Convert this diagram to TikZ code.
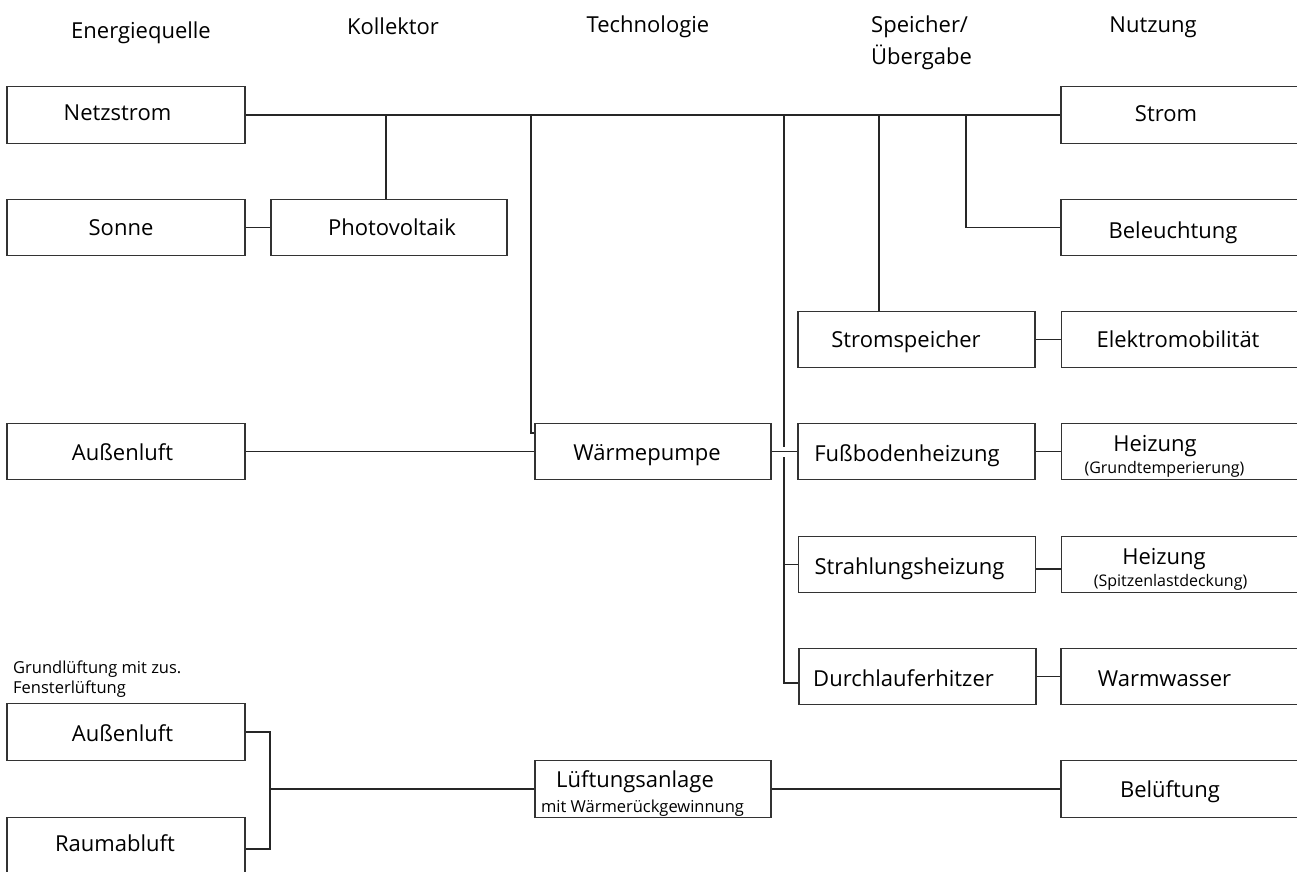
\documentclass[tikz,border=0pt]{standalone}
\usepackage{fontspec}
\setmainfont{Open Sans}
\usetikzlibrary{calc}
\newcommand\shiftl[2]{\hspace*{-#1pt}\hspace*{-#1pt}#2}
\begin{document}
\begin{tikzpicture}[x=1pt,y=-1pt,
  bx/.style={draw=black!80, line width=1.2pt, rectangle, inner sep=0pt,
             minimum height=56.5pt, text height=18pt, text depth=0pt,
             font=\fontsize{22}{26}\selectfont},
  lb/.style={bx, minimum width=238pt},
  mb/.style={bx, minimum width=236pt},
  sb/.style={bx, minimum width=237pt},
  rb/.style={bx, minimum width=250pt},
  ln/.style={draw=black!85, line width=1.2pt},
  hd/.style={font=\fontsize{22}{26}\selectfont, inner sep=0pt, anchor=base}
]
\useasboundingbox (0,0) rectangle (1297,871);
\clip (0,0) rectangle (1297,871);

% headers
\node[hd] (h1) at (141,38) {Energiequelle};
\node[hd] (h2) at (393,34) {Kollektor};
\node[hd] (h3) at (648,32) {Technologie};
\node[hd, anchor=base west] (h4) at (871,32)
  {\begin{tabular}[t]{@{}l@{}}Speicher/\\[5pt]Übergabe\end{tabular}};
\node[hd] (h5) at (1153,32) {Nutzung};

% boxes
\node[lb, text height=10.7pt] (net)   at (126,115)   {\shiftl{8.5}{Netzstrom}};
\node[lb, text height=15.7pt] (sonne) at (126,227.5) {\shiftl{5}{Sonne}};
\node[mb, text height=15.7pt] (pv)    at (389,227.5) {\shiftl{-3}{Photovoltaik}};
\node[rb, text height=12.7pt] (str)   at (1186,115)  {\shiftl{20}{Strom}};
\node[rb, text height=22.7pt] (bel)   at (1186,227.5){\shiftl{13}{Beleuchtung}};
\node[sb, text height=15.7pt] (ssp)   at (916.5,339.5){\shiftl{10.5}{Stromspeicher}};
\node[rb, text height=15.7pt] (emob)  at (1186.5,339.5){\shiftl{8.5}{Elektromobilität}};
\node[lb, text height=17.7pt] (aul)   at (126,451.5) {\shiftl{3.5}{Außenluft}};
\node[mb, text height=18.7pt] (wp)    at (653,451.5) {\shiftl{6}{Wärmepumpe}};
\node[sb, text height=20.7pt] (fbh)   at (916.5,451.5){\shiftl{9.5}{Fußbodenheizung}};
\node[rb, text height=10pt, text depth=10pt] (hz1) at (1186.5,451.5)
  {\shiftl{22}{\begin{tabular}[t]{@{}c@{}}\shiftl{9.5}{Heizung}\\[-4pt]{\fontsize{16}{18}\selectfont (Grundtemperierung)}\end{tabular}}};
\node[sb, text height=19.7pt] (shz)   at (917,564.5) {\shiftl{7.5}{Strahlungsheizung}};
\node[rb, text height=10pt, text depth=10pt] (hz2) at (1186.5,564.5)
  {\shiftl{16}{\begin{tabular}[t]{@{}c@{}}\shiftl{6.5}{Heizung}\\[-4pt]{\fontsize{16}{18}\selectfont (Spitzenlastdeckung)}\end{tabular}}};
\node[sb, text height=19.7pt] (dlh)   at (917.5,676.5){\shiftl{14}{Durchlauferhitzer}};
\node[rb, text height=19.7pt] (ww)    at (1186,676.5){\shiftl{21.5}{Warmwasser}};

\node[inner sep=0pt, anchor=base west, font=\fontsize{16.5}{20}\selectfont] (note) at (13,673)
  {\begin{tabular}[t]{@{}l@{}}Grundlüftung mit zus.\\Fensterlüftung\end{tabular}};
\node[lb, text height=19.7pt] (aul2)  at (126,732)   {\shiftl{3.5}{Außenluft}};
\node[lb, text height=12.7pt] (rab)   at (126,845.5) {\shiftl{11}{Raumabluft}};
\node[mb, text height=8pt, text depth=12pt] (lue) at (653,789)
  {\shiftl{10.5}{\begin{tabular}[t]{@{}c@{}}\shiftl{7.5}{Lüftungsanlage}\\[-1pt]{\fontsize{16.5}{18}\selectfont mit Wärmerückgewinnung}\end{tabular}}};
\node[rb, text height=16.7pt] (belu)  at (1186,789)  {\shiftl{16}{Belüftung}};

% junction coordinates
\coordinate (xpv) at (386,0);
\coordinate (xwp) at (531,433);
\coordinate (xv)  at (784,0);
\coordinate (xdl) at (784,683);
\coordinate (xsp) at (879,0);
\coordinate (xbl) at (966,0);
\coordinate (xvt) at (270,0);
\coordinate (gapa) at (784,447);
\coordinate (gapb) at (784,457);

% electric bus
\draw[ln] (net.east) -- (str.west);
\draw[ln] (xpv |- net.east) -- (xpv |- pv.north);
\draw[ln] (sonne.east) -- (pv.west);
\draw[ln] (xwp |- net.east) -- (xwp) -- (xwp -| wp.west);
\draw[ln] (xv |- net.east) -- (gapa);
\draw[ln] (gapb) -- (xdl) -- (xdl -| dlh.west);
\draw[ln] (xv |- shz.west) -- (shz.west);
\draw[ln] (xsp |- net.east) -- (xsp |- ssp.north);
\draw[ln] (xbl |- net.east) -- (xbl |- bel.west) -- (bel.west);

% heat / storage
\draw[ln] (aul.east) -- (wp.west);
\draw[ln] (wp.east) -- (fbh.west);
\draw[ln] (ssp.east) -- (emob.west);
\draw[ln] (fbh.east) -- (hz1.west);
\draw[ln] ($(shz.east)+(0,4.5)$) -- ($(hz2.west)+(0,4.5)$);
\draw[ln] (dlh.east) -- (ww.west);

% ventilation
\draw[ln] (aul2.east) -- (aul2.east -| xvt) -- ($(xvt |- rab.east)+(0,3.5)$) -- ($(rab.east)+(0,3.5)$);
\draw[ln] (xvt |- lue.west) -- (lue.west);
\draw[ln] (lue.east) -- (belu.west);
\end{tikzpicture}
\end{document}
